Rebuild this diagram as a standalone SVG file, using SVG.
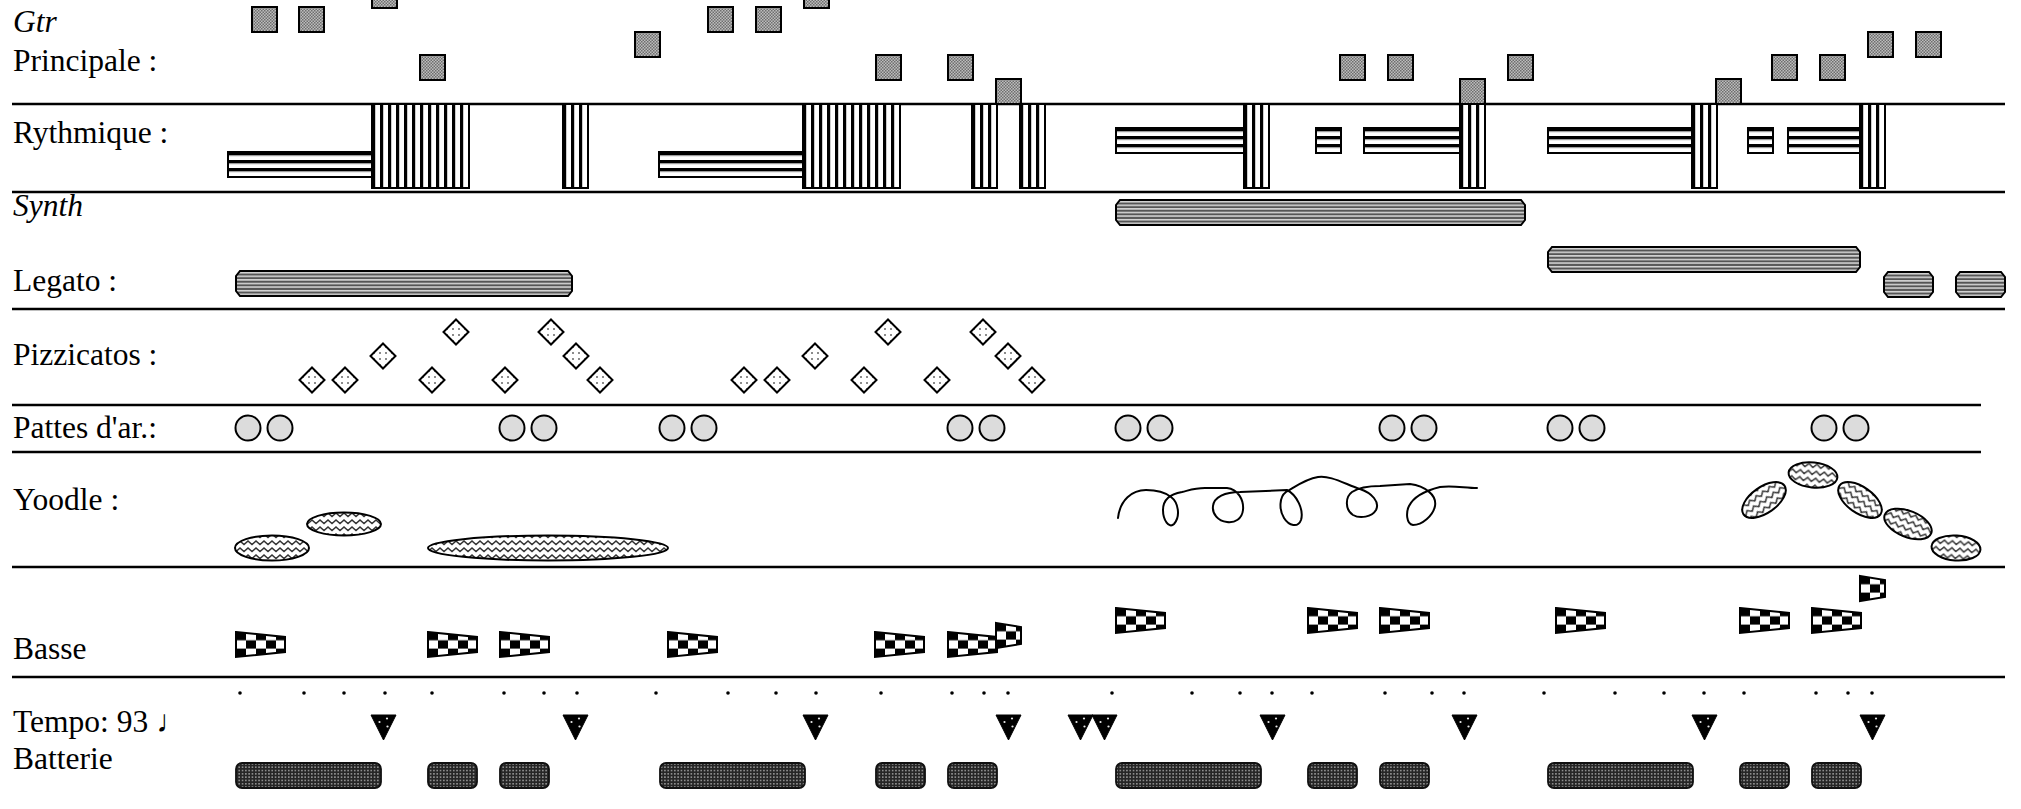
<svg xmlns="http://www.w3.org/2000/svg" xmlns:xlink="http://www.w3.org/1999/xlink" width="2021" height="809" viewBox="0 0 2021 809">
<style>
.lbl{font-family:"Liberation Serif","Times New Roman","DejaVu Serif",serif;font-size:31.5px;fill:#000}
.it{font-style:italic}
.rule{stroke:#000;stroke-width:2.4}
.gtr{fill:url(#pGtr);stroke:#000;stroke-width:2}
.hb{fill:url(#pH);stroke:#000;stroke-width:2}
.vb{fill:url(#pV);stroke:#000;stroke-width:2}
.leg{fill:url(#pL);stroke:#000;stroke-width:2}
.diam{fill:url(#pDot);stroke:#000;stroke-width:2}
.circ{fill:#dcdcdc;stroke:#000;stroke-width:2}
.yod{fill:url(#pZig);stroke:#000;stroke-width:2}
.curl{fill:none;stroke:#000;stroke-width:2;stroke-linecap:round;stroke-linejoin:round}
.flag{fill:url(#pChk);stroke:#000;stroke-width:2}
.tri{fill:#000;stroke:#000;stroke-width:1}
.tdot{fill:#e8e8e8}
.drum{fill:url(#pDrum);stroke:#111;stroke-width:1.8}
.beat{fill:#000}
</style>
<defs>
<pattern id="pGtr" width="3" height="3" patternUnits="userSpaceOnUse">
<rect width="3" height="3" fill="#bdbdbd"/>
<rect width="1.5" height="1.5" fill="#6e6e6e"/>
<rect x="1.5" y="1.5" width="1.5" height="1.5" fill="#6e6e6e"/>
</pattern>
<pattern id="pH" width="10" height="8" patternUnits="userSpaceOnUse">
<rect width="10" height="8" fill="#fff"/>
<rect width="10" height="3.5" fill="#000"/>
<rect y="3.5" width="10" height="0.8" fill="#bbb"/>
</pattern>
<pattern id="pV" width="8" height="10" patternUnits="userSpaceOnUse">
<rect width="8" height="10" fill="#fff"/>
<rect width="3.2" height="10" fill="#000"/>
</pattern>
<pattern id="pL" width="10" height="3.6" patternUnits="userSpaceOnUse">
<rect width="10" height="3.6" fill="#555"/>
<rect y="1" width="10" height="1.4" fill="#e6e6e6"/>
</pattern>
<pattern id="pDot" width="6" height="6" patternUnits="userSpaceOnUse">
<rect width="6" height="6" fill="#fff"/>
<circle cx="3" cy="3" r="1" fill="#666"/>
</pattern>
<pattern id="pZig" width="8" height="7" patternUnits="userSpaceOnUse">
<rect width="8" height="7" fill="#fff"/>
<path d="M-4,5.5 L0,2 L4,5.5 L8,2 L12,5.5" fill="none" stroke="#333" stroke-width="1.4"/>
</pattern>
<pattern id="pChk" width="20" height="16.6" patternUnits="userSpaceOnUse">
<rect width="20" height="16.6" fill="#fff"/>
<rect width="10" height="8.3" fill="#000"/>
<rect x="10" y="8.3" width="10" height="8.3" fill="#000"/>
</pattern>
<pattern id="pDrum" width="3.3" height="3.3" patternUnits="userSpaceOnUse">
<rect width="3.3" height="3.3" fill="#262626"/>
<circle cx="1.65" cy="1.65" r="0.8" fill="#b0b0b0"/>
</pattern>
<polygon id="diamond" class="diam" points="0,-12.5 12.5,0 0,12.5 -12.5,0"/>
<circle id="pat" class="circ" r="12.5"/>
<polygon id="flagB" class="flag" points="0,0 49,5 49,20 0,25"/>
<polygon id="flagS" class="flag" points="0,0 25,4 25,21 0,25"/>
<g id="tri">
<polygon class="tri" points="0,0 25,0 12.5,25"/>
<circle class="tdot" cx="8.5" cy="7" r="1.1"/>
<circle class="tdot" cx="16" cy="3.5" r="1.1"/>
<circle class="tdot" cx="16.5" cy="11.5" r="1.1"/>
</g>
<rect id="sq" class="gtr" width="25" height="25"/>
</defs>

<rect width="2021" height="809" fill="#fff"/>

<g id="rules">
<line class="rule" x1="12" y1="104" x2="2005" y2="104"/>
<line class="rule" x1="12" y1="192" x2="2005" y2="192"/>
<line class="rule" x1="12" y1="309" x2="2005" y2="309"/>
<line class="rule" x1="12" y1="405" x2="1981" y2="405"/>
<line class="rule" x1="12" y1="452" x2="1981" y2="452"/>
<line class="rule" x1="12" y1="567" x2="2005" y2="567"/>
<line class="rule" x1="12" y1="677" x2="2005" y2="677"/>
</g>

<g id="labels">
<text class="lbl it" x="13" y="32">Gtr</text>
<text class="lbl" x="13" y="71">Principale :</text>
<text class="lbl" x="13" y="143">Rythmique :</text>
<text class="lbl it" x="13" y="216">Synth</text>
<text class="lbl" x="13" y="291">Legato :</text>
<text class="lbl" x="13" y="365">Pizzicatos :</text>
<text class="lbl" x="13" y="438">Pattes d'ar.:</text>
<text class="lbl" x="13" y="510">Yoodle :</text>
<text class="lbl" x="13" y="659">Basse</text>
<text class="lbl" x="13" y="732">Tempo: 93 ♩</text>
<text class="lbl" x="13" y="769">Batterie</text>
</g>

<g id="rythmique">
<g transform="translate(228,152)"><rect class="hb" width="144" height="25"/></g>
<g transform="translate(372,104)"><rect class="vb" width="97" height="84"/></g>
<g transform="translate(563,104)"><rect class="vb" width="25" height="84"/></g>
<g transform="translate(659,152)"><rect class="hb" width="144" height="25"/></g>
<g transform="translate(803,104)"><rect class="vb" width="97" height="84"/></g>
<g transform="translate(972,104)"><rect class="vb" width="25" height="84"/></g>
<g transform="translate(1020,104)"><rect class="vb" width="25" height="84"/></g>
<g transform="translate(1116,128)"><rect class="hb" width="128" height="25"/></g>
<g transform="translate(1244,104)"><rect class="vb" width="25" height="84"/></g>
<g transform="translate(1316,128)"><rect class="hb" width="25" height="25"/></g>
<g transform="translate(1364,128)"><rect class="hb" width="96" height="25"/></g>
<g transform="translate(1460,104)"><rect class="vb" width="25" height="84"/></g>
<g transform="translate(1548,128)"><rect class="hb" width="144" height="25"/></g>
<g transform="translate(1692,104)"><rect class="vb" width="25" height="84"/></g>
<g transform="translate(1748,128)"><rect class="hb" width="25" height="25"/></g>
<g transform="translate(1788,128)"><rect class="hb" width="72" height="25"/></g>
<g transform="translate(1860,104)"><rect class="vb" width="25" height="84"/></g>
</g>

<g id="gtr-principale">
<use href="#sq" x="252" y="7"/>
<use href="#sq" x="299" y="7"/>
<use href="#sq" x="372" y="-17"/>
<use href="#sq" x="420" y="55"/>
<use href="#sq" x="635" y="32"/>
<use href="#sq" x="708" y="7"/>
<use href="#sq" x="756" y="7"/>
<use href="#sq" x="804" y="-17"/>
<use href="#sq" x="876" y="55"/>
<use href="#sq" x="948" y="55"/>
<use href="#sq" x="996" y="79"/>
<use href="#sq" x="1340" y="55"/>
<use href="#sq" x="1388" y="55"/>
<use href="#sq" x="1460" y="79"/>
<use href="#sq" x="1508" y="55"/>
<use href="#sq" x="1716" y="79"/>
<use href="#sq" x="1772" y="55"/>
<use href="#sq" x="1820" y="55"/>
<use href="#sq" x="1868" y="32"/>
<use href="#sq" x="1916" y="32"/>
</g>

<g id="synth-legato">
<g transform="translate(236,271)"><path class="leg" d="M4,0 H332 L336,5 V20 L332,25 H4 L0,20 V5 Z"/></g>
<g transform="translate(1116,200)"><path class="leg" d="M4,0 H405 L409,5 V20 L405,25 H4 L0,20 V5 Z"/></g>
<g transform="translate(1548,247)"><path class="leg" d="M4,0 H308 L312,5 V20 L308,25 H4 L0,20 V5 Z"/></g>
<g transform="translate(1884,272)"><path class="leg" d="M4,0 H45 L49,5 V20 L45,25 H4 L0,20 V5 Z"/></g>
<g transform="translate(1956,272)"><path class="leg" d="M4,0 H45 L49,5 V20 L45,25 H4 L0,20 V5 Z"/></g>
</g>

<g id="pizzicatos">
<use href="#diamond" x="312" y="380"/>
<use href="#diamond" x="345" y="380"/>
<use href="#diamond" x="383" y="356"/>
<use href="#diamond" x="432" y="380"/>
<use href="#diamond" x="456" y="332"/>
<use href="#diamond" x="505" y="380"/>
<use href="#diamond" x="551" y="332"/>
<use href="#diamond" x="576" y="356"/>
<use href="#diamond" x="600" y="380"/>
<use href="#diamond" x="744" y="380"/>
<use href="#diamond" x="777" y="380"/>
<use href="#diamond" x="815" y="356"/>
<use href="#diamond" x="864" y="380"/>
<use href="#diamond" x="888" y="332"/>
<use href="#diamond" x="937" y="380"/>
<use href="#diamond" x="983" y="332"/>
<use href="#diamond" x="1008" y="356"/>
<use href="#diamond" x="1032" y="380"/>
</g>

<g id="pattes">
<use href="#pat" x="248" y="428"/><use href="#pat" x="280" y="428"/>
<use href="#pat" x="512" y="428"/><use href="#pat" x="544" y="428"/>
<use href="#pat" x="672" y="428"/><use href="#pat" x="704" y="428"/>
<use href="#pat" x="960" y="428"/><use href="#pat" x="992" y="428"/>
<use href="#pat" x="1128" y="428"/><use href="#pat" x="1160" y="428"/>
<use href="#pat" x="1392" y="428"/><use href="#pat" x="1424" y="428"/>
<use href="#pat" x="1560" y="428"/><use href="#pat" x="1592" y="428"/>
<use href="#pat" x="1824" y="428"/><use href="#pat" x="1856" y="428"/>
</g>

<g id="yoodle">
<ellipse class="yod" cx="272" cy="548" rx="37" ry="12.5"/>
<ellipse class="yod" cx="344" cy="524" rx="37" ry="11.5"/>
<ellipse class="yod" cx="548" cy="548" rx="120" ry="12.5"/>
<path class="curl" d="M1118,518 C1120,500 1132,490 1146,490 C1157,490 1166,493 1171,497 C1178,502 1181,516 1174,524 C1169,529 1163,520 1163,510 C1163,500 1170,494 1182,492 C1190,490 1195,488 1205,488 L1227,488 C1238,489 1244,500 1243,510 C1242,519 1235,523 1227,522 C1218,521 1212,514 1213,506 C1214,497 1225,492 1240,492 L1287,490 C1297,495 1304,510 1301,520 C1298,528 1289,526 1284,518 C1279,510 1279,497 1286,492 C1295,487 1305,479 1318,477 C1330,475 1345,484 1360,489 C1372,493 1380,502 1376,510 C1372,517 1360,519 1353,515 C1345,510 1345,497 1352,492 C1358,488 1368,486 1380,486 L1410,484 C1425,486 1437,495 1435,506 C1433,516 1422,525 1413,525 C1406,524 1406,512 1409,506 C1414,496 1428,490 1440,487 C1452,485 1465,488 1477,488"/>
<ellipse class="yod" cx="1764" cy="500" rx="25" ry="13" transform="rotate(-35 1764 500)"/>
<ellipse class="yod" cx="1813" cy="475" rx="24.5" ry="12.5" transform="rotate(6 1813 475)"/>
<ellipse class="yod" cx="1860" cy="500" rx="25" ry="13" transform="rotate(35 1860 500)"/>
<ellipse class="yod" cx="1908" cy="524" rx="25" ry="13" transform="rotate(22 1908 524)"/>
<ellipse class="yod" cx="1956" cy="548" rx="24.5" ry="12.5" transform="rotate(4 1956 548)"/>
</g>

<g id="basse">
<use href="#flagB" x="236" y="632"/>
<use href="#flagB" x="428" y="632"/>
<use href="#flagB" x="500" y="632"/>
<use href="#flagB" x="668" y="632"/>
<use href="#flagB" x="875" y="632"/>
<use href="#flagB" x="948" y="632"/>
<use href="#flagS" x="996" y="623"/>
<use href="#flagB" x="1116" y="608"/>
<use href="#flagB" x="1308" y="608"/>
<use href="#flagB" x="1380" y="608"/>
<use href="#flagB" x="1556" y="608"/>
<use href="#flagB" x="1740" y="608"/>
<use href="#flagB" x="1812" y="608"/>
<use href="#flagS" x="1860" y="576"/>
</g>

<g id="tempo-beats">
<circle class="beat" cx="240" cy="693" r="1.8"/><circle class="beat" cx="304" cy="693" r="1.8"/>
<circle class="beat" cx="344" cy="693" r="1.8"/><circle class="beat" cx="385" cy="693" r="1.8"/>
<circle class="beat" cx="432" cy="693" r="1.8"/><circle class="beat" cx="504" cy="693" r="1.8"/>
<circle class="beat" cx="544" cy="693" r="1.8"/><circle class="beat" cx="577" cy="693" r="1.8"/>
<circle class="beat" cx="656" cy="693" r="1.8"/><circle class="beat" cx="728" cy="693" r="1.8"/>
<circle class="beat" cx="776" cy="693" r="1.8"/><circle class="beat" cx="816" cy="693" r="1.8"/>
<circle class="beat" cx="881" cy="693" r="1.8"/><circle class="beat" cx="952" cy="693" r="1.8"/>
<circle class="beat" cx="984" cy="693" r="1.8"/><circle class="beat" cx="1008" cy="693" r="1.8"/>
<circle class="beat" cx="1112" cy="693" r="1.8"/><circle class="beat" cx="1192" cy="693" r="1.8"/>
<circle class="beat" cx="1240" cy="693" r="1.8"/><circle class="beat" cx="1272" cy="693" r="1.8"/>
<circle class="beat" cx="1312" cy="693" r="1.8"/><circle class="beat" cx="1385" cy="693" r="1.8"/>
<circle class="beat" cx="1432" cy="693" r="1.8"/><circle class="beat" cx="1464" cy="693" r="1.8"/>
<circle class="beat" cx="1544" cy="693" r="1.8"/><circle class="beat" cx="1615" cy="693" r="1.8"/>
<circle class="beat" cx="1664" cy="693" r="1.8"/><circle class="beat" cx="1704" cy="693" r="1.8"/>
<circle class="beat" cx="1744" cy="693" r="1.8"/><circle class="beat" cx="1816" cy="693" r="1.8"/>
<circle class="beat" cx="1848" cy="693" r="1.8"/><circle class="beat" cx="1872" cy="693" r="1.8"/>
</g>

<g id="tempo-accents">
<use href="#tri" x="371" y="715"/>
<use href="#tri" x="563" y="715"/>
<use href="#tri" x="803" y="715"/>
<use href="#tri" x="996" y="715"/>
<use href="#tri" x="1068" y="715"/>
<use href="#tri" x="1092" y="715"/>
<use href="#tri" x="1260" y="715"/>
<use href="#tri" x="1452" y="715"/>
<use href="#tri" x="1692" y="715"/>
<use href="#tri" x="1860" y="715"/>
</g>

<g id="batterie">
<rect class="drum" x="236" y="763" width="145" height="25" rx="6"/>
<rect class="drum" x="428" y="763" width="49" height="25" rx="6"/>
<rect class="drum" x="500" y="763" width="49" height="25" rx="6"/>
<rect class="drum" x="660" y="763" width="145" height="25" rx="6"/>
<rect class="drum" x="876" y="763" width="49" height="25" rx="6"/>
<rect class="drum" x="948" y="763" width="49" height="25" rx="6"/>
<rect class="drum" x="1116" y="763" width="145" height="25" rx="6"/>
<rect class="drum" x="1308" y="763" width="49" height="25" rx="6"/>
<rect class="drum" x="1380" y="763" width="49" height="25" rx="6"/>
<rect class="drum" x="1548" y="763" width="145" height="25" rx="6"/>
<rect class="drum" x="1740" y="763" width="49" height="25" rx="6"/>
<rect class="drum" x="1812" y="763" width="49" height="25" rx="6"/>
</g>
</svg>
